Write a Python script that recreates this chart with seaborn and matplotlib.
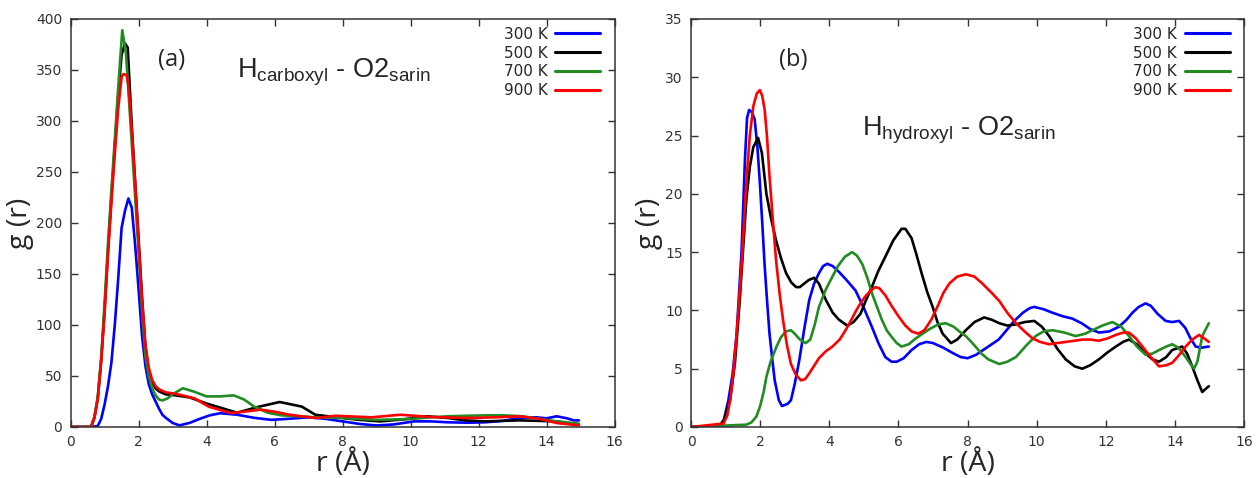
import numpy as np
import pandas as pd
import matplotlib
matplotlib.use("Agg")
import matplotlib.pyplot as plt
import seaborn as sns

# ---------------- data: panel (a) H_carboxyl - O2_sarin ----------------
a_r_300 = [0, 0.6, 0.8, 0.9, 1.0, 1.1, 1.2, 1.3, 1.4, 1.5, 1.6, 1.7, 1.8, 1.9, 2.0, 2.1, 2.2, 2.3, 2.4,
           2.5, 2.6, 2.7, 2.8, 3.0, 3.2, 3.5, 3.8, 4.1, 4.4, 4.9, 5.4, 5.9, 6.4, 7.0, 7.5, 8.0, 8.5, 9.0,
           9.5, 10.1, 10.6, 11.1, 11.7, 12.2, 12.7, 13.2, 13.7, 14.0, 14.3, 14.6, 14.8, 14.95]
a_g_300 = [0, 0, 1, 8, 22, 40, 63, 100, 145, 195, 212, 224, 215, 178, 135, 90, 60, 42, 32,
           25, 18, 12, 9, 4, 1.6, 4, 8, 11.5, 13.5, 12, 9, 7, 8, 9.5, 8, 5.5, 3, 1.5,
           2.5, 5.5, 5.5, 4.6, 4.2, 4.6, 6, 8.8, 9.5, 8.5, 10.5, 8.5, 6.5, 6.5]

a_r_500 = [0, 0.6, 0.7, 0.8, 0.9, 1.0, 1.1, 1.2, 1.3, 1.4, 1.5, 1.6, 1.68, 1.8, 1.9, 2.0, 2.1, 2.2, 2.3,
           2.4, 2.5, 2.6, 2.8, 3.1, 3.5, 4.0, 4.4, 4.9, 5.5, 6.15, 6.8, 7.2, 8.0, 8.5, 9.1, 9.8, 10.5,
           11.1, 11.6, 12.2, 12.7, 13.2, 13.8, 14.3, 14.95]
a_g_500 = [0, 0, 9, 28, 65, 115, 172, 225, 275, 325, 365, 376, 372, 295, 240, 185, 128, 80, 55,
           44, 38, 35, 32, 31, 29, 23, 19, 14, 19.6, 24.5, 20, 12, 8.8, 7, 5.5, 7.5, 10.5,
           8.8, 6.5, 5.5, 6, 6.5, 6, 5.5, 2.3]

a_r_700 = [0, 0.6, 0.7, 0.8, 0.9, 1.0, 1.1, 1.2, 1.3, 1.4, 1.52, 1.63, 1.7, 1.8, 1.9, 2.0, 2.1, 2.2, 2.3,
           2.4, 2.5, 2.6, 2.7, 2.85, 3.0, 3.3, 3.6, 4.0, 4.4, 4.8, 5.1, 5.4, 5.8, 6.2, 6.7, 7.2, 8.0,
           9.0, 10.0, 10.6, 11.1, 11.6, 12.2, 12.7, 13.3, 13.8, 14.3, 14.95]
a_g_700 = [0, 0, 10, 30, 68, 122, 180, 232, 282, 332, 389, 366, 330, 278, 225, 172, 115, 70, 50,
           38, 31, 27, 26, 28, 32, 38, 35, 30, 30, 31, 27, 20, 14, 11.4, 10.5, 9.5, 8.8,
           7, 7.8, 9.5, 10.5, 11, 11.4, 11.5, 10.5, 8, 5.5, 3.3]

a_r_900 = [0, 0.6, 0.7, 0.8, 0.9, 1.0, 1.1, 1.2, 1.3, 1.4, 1.5, 1.55, 1.65, 1.7, 1.8, 1.9, 2.0, 2.1, 2.2,
           2.3, 2.4, 2.5, 2.6, 2.8, 3.0, 3.3, 3.65, 4.06, 4.7, 5.1, 5.6, 6.0, 6.45, 7.2, 7.8, 8.85,
           9.7, 10.6, 11.7, 12.5, 13.2, 13.8, 14.3, 14.95]
a_g_900 = [0, 0, 9, 28, 65, 112, 170, 220, 268, 312, 343, 346, 345, 335, 290, 238, 180, 125, 80,
           58, 46, 40, 37, 34, 33, 31, 28, 20, 13.7, 15, 17, 15, 12, 8.8, 11, 9.5,
           12, 9.8, 8.8, 9.5, 10.5, 8, 3.9, 1.6]

# ---------------- data: panel (b) H_hydroxyl - O2_sarin ----------------
b_r_300 = [0, 0.8, 0.95, 1.08, 1.2, 1.32, 1.46, 1.56, 1.62, 1.68, 1.76, 1.84, 1.92, 1.99, 2.06, 2.13,
           2.2, 2.27, 2.35, 2.42, 2.54, 2.63, 2.72, 2.8, 2.89, 3.0, 3.13, 3.28, 3.42, 3.56, 3.7, 3.82,
           3.94, 4.1, 4.28, 4.5, 4.76, 5.0, 5.23, 5.42, 5.62, 5.8, 5.95, 6.15, 6.38, 6.6, 6.81, 7.0,
           7.3, 7.6, 7.8, 8.0, 8.25, 8.5, 8.7, 8.9, 9.1, 9.35, 9.6, 9.8, 9.93, 10.2, 10.46, 10.75,
           11.03, 11.3, 11.55, 11.8, 12.1, 12.38, 12.6, 12.77, 12.95, 13.15, 13.3, 13.5, 13.73, 13.92,
           14.12, 14.3, 14.45, 14.6, 14.75, 14.98]
b_g_300 = [0, 0, 0.6, 2.3, 4.5, 8, 15, 23, 26.5, 27.2, 27, 26.4, 24, 21, 17.5, 13.8,
           10.8, 8, 5.8, 4, 2.3, 1.8, 1.9, 2.0, 2.3, 3.7, 5.7, 8.5, 10.9, 12.3, 13.2, 13.8,
           14, 13.8, 13.3, 12.6, 11.7, 10.2, 8.6, 7.2, 6.0, 5.6, 5.6, 5.9, 6.6, 7.1, 7.3, 7.2,
           6.8, 6.3, 6.0, 5.9, 6.2, 6.7, 7.1, 7.5, 8.2, 9.1, 9.8, 10.2, 10.3, 10.1, 9.8, 9.5,
           9.3, 8.9, 8.4, 8.1, 8.2, 8.6, 9.2, 9.8, 10.3, 10.6, 10.4, 9.7, 9.1, 9.0,
           9.1, 8.5, 7.6, 6.9, 6.8, 6.9]

b_r_500 = [0, 0.8, 0.95, 1.13, 1.27, 1.41, 1.5, 1.6, 1.7, 1.8, 1.94, 2.05, 2.18, 2.32, 2.46, 2.6,
           2.75, 2.9, 3.04, 3.15, 3.23, 3.4, 3.56, 3.7, 3.9, 4.1, 4.28, 4.52, 4.7, 4.9, 5.05, 5.23,
           5.42, 5.62, 5.85, 6.09, 6.2, 6.38, 6.52, 6.67, 6.83, 6.99, 7.13, 7.28, 7.52, 7.7, 7.95,
           8.2, 8.48, 8.7, 8.92, 9.15, 9.4, 9.65, 9.93, 10.15, 10.36, 10.6, 10.84, 11.1, 11.32, 11.55,
           11.8, 12.05, 12.29, 12.5, 12.67, 12.9, 13.15, 13.35, 13.54, 13.75, 13.92, 14.21, 14.35,
           14.5, 14.65, 14.79, 14.9, 14.98]
b_g_500 = [0, 0, 0.6, 2.3, 5.5, 10.9, 15, 19.5, 22.3, 24, 24.8, 23.5, 20, 17.8, 16, 14.5,
           13.2, 12.4, 12, 12, 12.2, 12.6, 12.8, 12.3, 10.9, 9.8, 9.2, 8.7, 9.0, 9.7, 10.8, 12,
           13.4, 14.6, 16.0, 17, 17.0, 16.2, 14.8, 13.2, 11.6, 10.3, 9.0, 8.0, 7.2, 7.5, 8.3,
           9.0, 9.4, 9.2, 8.9, 8.7, 8.8, 9.0, 9.1, 8.6, 7.8, 6.7, 5.8, 5.2, 5.0, 5.3,
           5.8, 6.4, 6.9, 7.3, 7.5, 7.1, 6.3, 5.8, 5.6, 6.0, 6.6, 6.9, 6.3,
           5.2, 4.0, 3.0, 3.3, 3.5]

b_r_700 = [0, 1.6, 1.75, 1.89, 2.0, 2.1, 2.18, 2.3, 2.46, 2.6, 2.75, 2.89, 3.0, 3.15, 3.32, 3.45,
           3.58, 3.7, 3.9, 4.09, 4.25, 4.45, 4.66, 4.8, 4.95, 5.1, 5.23, 5.38, 5.52, 5.66, 5.81, 5.95,
           6.09, 6.3, 6.5, 6.7, 6.9, 7.15, 7.37, 7.6, 7.8, 7.95, 8.2, 8.4, 8.6, 8.92, 9.15, 9.4, 9.7,
           9.97, 10.2, 10.46, 10.8, 11.13, 11.4, 11.61, 11.9, 12.19, 12.45, 12.67, 12.9, 13.15, 13.35,
           13.54, 13.75, 13.92, 14.1, 14.31, 14.45, 14.55, 14.65, 14.79, 14.98]
b_g_700 = [0, 0.2, 0.4, 0.9, 1.8, 3.0, 4.3, 5.6, 6.8, 7.7, 8.2, 8.3, 8.0, 7.5, 7.2, 7.5,
           8.8, 10.3, 11.8, 12.9, 13.8, 14.6, 15.0, 14.7, 14.0, 12.8, 11.5, 10.3, 9.2, 8.3, 7.7, 7.2,
           6.9, 7.1, 7.6, 8.0, 8.4, 8.8, 8.9, 8.6, 8.1, 7.8, 7.0, 6.3, 5.8, 5.4, 5.6, 6.0, 7.0,
           7.8, 8.2, 8.3, 8.1, 7.8, 8.0, 8.3, 8.7, 9.0, 8.6, 7.8, 6.9, 6.2, 6.3,
           6.6, 6.9, 7.1, 6.8, 6.0, 5.4, 5.0, 5.6, 7.8, 8.9]

b_r_900 = [0, 0.94, 1.05, 1.13, 1.22, 1.32, 1.46, 1.6, 1.7, 1.8, 1.9, 1.99, 2.06, 2.13, 2.2, 2.27,
           2.36, 2.46, 2.56, 2.66, 2.77, 2.89, 3.03, 3.18, 3.3, 3.42, 3.55, 3.7, 3.9, 4.09, 4.3, 4.47,
           4.62, 4.76, 4.9, 5.04, 5.2, 5.33, 5.45, 5.62, 5.8, 6.0, 6.2, 6.38, 6.57, 6.75, 6.95, 7.14,
           7.3, 7.47, 7.7, 7.95, 8.2, 8.43, 8.7, 8.92, 9.15, 9.4, 9.65, 9.88, 10.1, 10.36, 10.6, 10.84,
           11.1, 11.32, 11.55, 11.8, 12.05, 12.29, 12.5, 12.67, 12.87, 13.06, 13.3, 13.54, 13.75,
           13.92, 14.1, 14.31, 14.5, 14.7, 14.85, 14.98]
b_g_900 = [0, 0.3, 1.0, 2.3, 4.5, 8, 13.8, 21, 25, 27.5, 28.6, 28.9, 28.4, 27.2, 24.8, 21.5,
           18, 14.3, 11.5, 9.2, 7.1, 5.4, 4.5, 4.0, 4.1, 4.6, 5.2, 5.9, 6.5, 6.9, 7.5, 8.3,
           9.1, 9.9, 10.6, 11.2, 11.7, 12, 11.9, 11.3, 10.4, 9.5, 8.7, 8.2, 8.0, 8.3, 9.2, 10.4,
           11.5, 12.3, 12.9, 13.1, 12.9, 12.3, 11.5, 10.8, 9.8, 8.9, 8.2, 7.6, 7.3, 7.1, 7.2, 7.3,
           7.4, 7.5, 7.5, 7.4, 7.6, 7.9, 8.1, 8.1, 7.6, 6.9, 6.0, 5.2, 5.3,
           5.5, 6.1, 6.9, 7.5, 7.9, 7.6, 7.3]

temps = ["300 K", "500 K", "700 K", "900 K"]
colors = ["#0000ff", "#000000", "#228b22", "#ff0000"]

def long_df(rs, gs):
    frames = [pd.DataFrame({"r": r, "g": g, "T": t}) for r, g, t in zip(rs, gs, temps)]
    return pd.concat(frames, ignore_index=True)

df_a = long_df([a_r_300, a_r_500, a_r_700, a_r_900], [a_g_300, a_g_500, a_g_700, a_g_900])
df_b = long_df([b_r_300, b_r_500, b_r_700, b_r_900], [b_g_300, b_g_500, b_g_700, b_g_900])

sns.set_theme(style="ticks")
plt.rcParams["font.family"] = ["DejaVu Sans"]
plt.rcParams["mathtext.fontset"] = "custom"
plt.rcParams["mathtext.rm"] = "Liberation Sans"
plt.rcParams["mathtext.it"] = "Liberation Sans"

fig = plt.figure(figsize=(12.56, 4.78), dpi=100)
ax_a = fig.add_axes([0.0562, 0.1067, 0.4331, 0.8536])
ax_b = fig.add_axes([0.5502, 0.1067, 0.4403, 0.8536])

panels = [
    (ax_a, df_a, 400, 50, "(a)", r"H$_{\mathrm{carboxyl}}$ - O2$_{\mathrm{sarin}}$", (0.306, 0.868)),
    (ax_b, df_b, 35, 5, "(b)", r"H$_{\mathrm{hydroxyl}}$ - O2$_{\mathrm{sarin}}$", (0.309, 0.726)),
]

for ax, df, ymax, ystep, tag, title, tpos in panels:
    sns.lineplot(data=df, x="r", y="g", hue="T", palette=colors, hue_order=temps,
                 estimator=None, sort=True, linewidth=1.9, ax=ax)
    ax.set_xlim(0, 16)
    ax.set_ylim(0, ymax)
    ax.set_xticks(np.arange(0, 17, 2))
    ax.set_yticks(np.arange(0, ymax + 1, ystep))
    ax.tick_params(direction="in", top=True, right=True, length=5, width=1,
                   labelsize=10, labelcolor="#333333", color="#333333", pad=6)
    for s in ax.spines.values():
        s.set_linewidth(1.1)
        s.set_color("#333333")
    ax.set_xlabel("r (Å)", fontsize=20.5, family="Open Sans", labelpad=0)
    ax.set_ylabel("g (r)", fontsize=20.5, family="Open Sans", labelpad=1.5)
    ax.text(0.185, 0.90, tag, transform=ax.transAxes, fontsize=17, family="Open Sans",
            ha="center", va="center")
    ax.text(tpos[0], tpos[1], title, transform=ax.transAxes, fontsize=19.5,
            family="Liberation Sans", ha="left", va="center")
    leg = ax.legend(loc="upper right", bbox_to_anchor=(0.974, 0.981), frameon=False,
                    markerfirst=False, fontsize=11, handlelength=2.95, handletextpad=0.5,
                    labelspacing=0.25, borderpad=0, borderaxespad=0, title=None)
    for h in leg.get_lines():
        h.set_linewidth(2.2)

fig.savefig("out.png", dpi=100)
